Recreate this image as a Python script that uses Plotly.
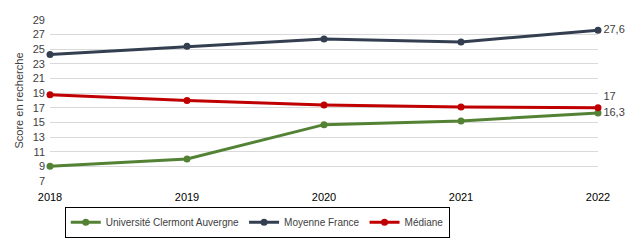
import plotly.graph_objects as go

years = [2018, 2019, 2020, 2021, 2022]
uca = [9.0, 10.0, 14.7, 15.2, 16.3]
moyenne = [24.3, 25.4, 26.4, 26.0, 27.6]
mediane = [18.8, 18.0, 17.4, 17.1, 17.0]
names = ["Université Clermont Auvergne", "Moyenne France", "Médiane"]
colors = ["#548235", "#333F50", "#C00000"]
last_labels = ["16,3", "27,6", "17"]
positions = ["middle right", "middle right", "top right"]

fig = go.Figure()
for name, vals, col, lab, pos in zip(names, [uca, moyenne, mediane], colors, last_labels, positions):
    txt = [""] * (len(vals) - 1) + [lab]
    fig.add_trace(go.Scatter(
        x=years, y=vals, name=name, mode="lines+markers+text",
        line=dict(color=col, width=3), marker=dict(color=col, size=7),
        text=txt, textposition=pos, cliponaxis=False,
        textfont=dict(color="#404040", size=11),
    ))

fig.update_layout(
    width=644, height=250,
    margin=dict(l=50, r=46, t=20, b=65),
    plot_bgcolor="white", paper_bgcolor="white",
    font=dict(family="Liberation Sans Narrow, Liberation Sans, Arial", size=11, color="#404040"),
    showlegend=True,
    legend=dict(orientation="h", x=0.027, xanchor="left", y=-0.16, yanchor="top",
                bordercolor="black", borderwidth=1, font=dict(size=10, color="#404040"),
                itemwidth=30, tracegroupgap=0, entrywidthmode="pixels"),
    xaxis=dict(range=[2018, 2022], tickvals=years, ticktext=[str(y) for y in years],
               showgrid=False, zeroline=False, showline=False, ticks="",
               ticklabelstandoff=8,
               tickfont=dict(size=11, color="#000000")),
    yaxis=dict(range=[7, 29], tickvals=list(range(7, 30, 2)), showgrid=True,
               gridcolor="#D9D9D9", gridwidth=1, zeroline=False, showline=False,
               ticklabelstandoff=4,
               title=dict(text="Score en recherche", font=dict(size=11, color="#404040"), standoff=6),
               tickfont=dict(size=11, color="#404040")),
)
fig.write_html("out.html")
